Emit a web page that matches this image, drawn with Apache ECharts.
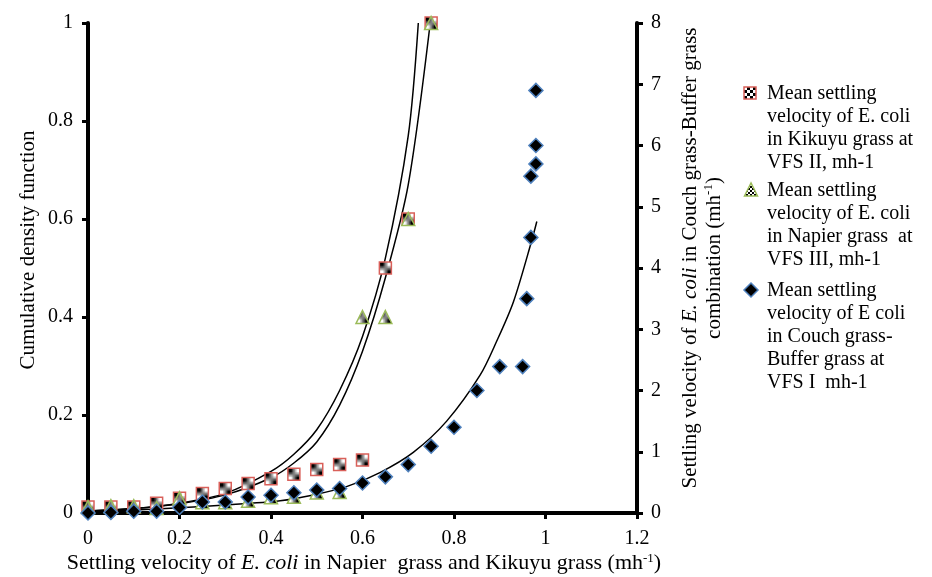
<!DOCTYPE html>
<html>
<head>
<meta charset="utf-8">
<script src="https://cdn.jsdelivr.net/npm/echarts@6/dist/echarts.min.js"></script>
<style>html,body{margin:0;padding:0;background:#fff}#c{width:932px;height:577px}</style>
</head>
<body>
<div id="c"></div>
<script>
// ---- data ----
const xTicks = [0, 0.2, 0.4, 0.6, 0.8, 1, 1.2];
const kikuyuX = [0,0.05,0.1,0.15,0.2,0.25,0.3,0.35,0.4,0.45,0.5,0.55,0.6,0.65,0.7,0.75];
const kikuyuY = [0.012,0.012,0.012,0.02,0.03,0.04,0.05,0.06,0.07,0.079,0.089,0.099,0.108,0.5,0.6,1.0];
const napierX = [0,0.05,0.1,0.15,0.2,0.25,0.3,0.35,0.4,0.45,0.5,0.55,0.6,0.65,0.7,0.75];
const napierY = [0.012,0.014,0.014,0.01,0.03,0.022,0.022,0.025,0.032,0.033,0.042,0.043,0.4,0.4,0.6,1.0];
const couchX = [0,0.05,0.1,0.15,0.2,0.25,0.3,0.35,0.4,0.45,0.5,0.55,0.6,0.65,0.7,0.75,0.8,0.85,0.9,0.95,0.959,0.968,0.968,0.979,0.979,0.979];
const couchY = [0.0,0.01,0.03,0.03,0.09,0.18,0.18,0.26,0.29,0.33,0.375,0.4,0.49,0.59,0.79,1.09,1.4,2.0,2.39,2.39,3.5,4.5,5.5,5.7,6.0,6.9];
// trend curves
const trendAX = [0,0.1,0.2,0.3,0.4,0.45,0.5,0.55,0.6,0.65,0.7,0.722];
const trendAY = [0.004,0.009,0.02,0.04,0.085,0.12,0.17,0.25,0.36,0.52,0.77,1.0];
const trendBX = [0,0.1,0.2,0.3,0.4,0.45,0.5,0.55,0.6,0.65,0.7,0.748];
const trendBY = [0.004,0.009,0.019,0.037,0.072,0.102,0.145,0.22,0.33,0.48,0.67,1.0];
const trendCX = [0,0.1,0.2,0.3,0.42,0.49,0.565,0.638,0.711,0.784,0.857,0.893,0.93,0.97,0.981];
const trendCY = [0.02,0.05,0.085,0.13,0.2,0.29,0.43,0.66,0.99,1.5,2.25,2.8,3.45,4.45,4.76];
const legendNames = [
  'Mean settling\nvelocity of E. coli\nin Kikuyu grass at\nVFS II, mh-1',
  'Mean settling\nvelocity of E. coli\nin Napier grass  at\nVFS III, mh-1',
  'Mean settling\nvelocity of E coli\nin Couch grass-\nBuffer grass at\nVFS I  mh-1'
];

function zip(a, b) { return a.map((v, i) => [v, b[i]]); }
function checker(cell) {
  const c = document.createElement('canvas');
  c.width = c.height = cell * 2;
  const g = c.getContext('2d');
  g.fillStyle = '#fff'; g.fillRect(0, 0, cell * 2, cell * 2);
  g.fillStyle = '#000'; g.fillRect(0, 0, cell, cell); g.fillRect(cell, cell, cell, cell);
  return c;
}
const patBig = { image: checker(3), repeat: 'repeat' };
const patSmall = { image: checker(2), repeat: 'repeat' };
const FONT = '"Liberation Serif", "Times New Roman", serif';
const RED = '#d9605a', GREEN = '#9bbb59', BLUE = '#4f81bd';

const chart = echarts.init(document.getElementById('c'), null, { renderer: 'canvas' });
const axisLineS = { show: true, lineStyle: { color: '#000', width: 4 } };
const tickS = { show: true, inside: false, length: 6, lineStyle: { color: '#000', width: 3 } };
const labS = { fontFamily: FONT, fontSize: 20, color: '#000' };

const lineSeries = (name, xs, ys, yIdx) => ({
  name, type: 'line', yAxisIndex: yIdx, data: zip(xs, ys), showSymbol: false, symbol: 'none',
  smooth: 0.3, lineStyle: { color: '#000', width: 1.5 }, z: 3, silent: true
});

chart.setOption({
  animation: false,
  backgroundColor: '#fff',
  grid: { left: 88, right: 295, top: 23, bottom: 64, containLabel: false },
  xAxis: {
    type: 'value', min: 0, max: 1.2, interval: 0.2,
    axisLine: axisLineS, axisTick: tickS, splitLine: { show: false },
    axisLabel: Object.assign({ margin: 16 }, labS)
  },
  yAxis: [
    { type: 'value', min: 0, max: 1, interval: 0.2, position: 'left',
      axisLine: axisLineS, axisTick: tickS, splitLine: { show: false },
      axisLabel: Object.assign({ margin: 15 }, labS) },
    { type: 'value', min: 0, max: 8, interval: 1, position: 'right',
      axisLine: axisLineS, axisTick: tickS, splitLine: { show: false },
      axisLabel: Object.assign({ margin: 14 }, labS) }
  ],
  series: [
    { name: 'Kikuyu', type: 'scatter', yAxisIndex: 0, data: zip(kikuyuX, kikuyuY),
      symbol: 'rect', symbolSize: 12, z: 4,
      itemStyle: { color: patBig, borderColor: RED, borderWidth: 1.5, opacity: 1 } },
    { name: 'Napier', type: 'scatter', yAxisIndex: 0, data: zip(napierX, napierY),
      symbol: 'triangle', symbolSize: 13, z: 5,
      itemStyle: { color: patSmall, borderColor: GREEN, borderWidth: 1.5, opacity: 1 } },
    { name: 'Couch', type: 'scatter', yAxisIndex: 1, data: zip(couchX, couchY),
      symbol: 'diamond', symbolSize: 14, z: 6,
      itemStyle: { color: '#000', borderColor: BLUE, borderWidth: 1.5, opacity: 1 } },
    lineSeries('trendA', trendAX, trendAY, 0),
    lineSeries('trendB', trendBX, trendBY, 0),
    lineSeries('trendC', trendCX, trendCY, 1)
  ],
  graphic: [
    { type: 'text', position: [364, 563], style: {
        text: 'Settling velocity of {i|E. coli} in Napier  grass and Kikuyu grass (mh{s|-1})',
        font: '22px ' + FONT, fill: '#000', align: 'center', verticalAlign: 'middle',
        rich: { i: { fontStyle: 'italic', fontSize: 22, fontFamily: FONT },
                s: { fontSize: 13, fontFamily: FONT, verticalAlign: 'top', padding: [0, 0, 9, 0] } } } },
    { type: 'text', position: [28, 250], rotation: Math.PI / 2, style: {
        text: 'Cumulative density function', font: '21px ' + FONT, fill: '#000',
        align: 'center', verticalAlign: 'middle' } },
    { type: 'text', position: [702, 258], rotation: Math.PI / 2, style: {
        text: 'Settling velocity of {i|E. coli} in Couch grass-Buffer grass\ncombination (mh{s|-1})',
        font: '21px ' + FONT, fill: '#000', align: 'center', verticalAlign: 'middle', lineHeight: 24,
        rich: { i: { fontStyle: 'italic', fontSize: 21, fontFamily: FONT, lineHeight: 24 },
                s: { fontSize: 13, fontFamily: FONT, verticalAlign: 'top', padding: [0, 0, 9, 0], lineHeight: 24 } } } },
    // legend
    { type: 'rect', shape: { x: 744, y: 87, width: 12, height: 12 },
      style: { fill: patBig, stroke: RED, lineWidth: 1.5 } },
    { type: 'text', position: [767, 82], style: { text: legendNames[0], font: '20px ' + FONT, fill: '#000', lineHeight: 23 } },
    { type: 'polygon', shape: { points: [[751, 183], [744.5, 196], [757.5, 196]] },
      style: { fill: patSmall, stroke: GREEN, lineWidth: 1.5 } },
    { type: 'text', position: [767, 179], style: { text: legendNames[1], font: '20px ' + FONT, fill: '#000', lineHeight: 23 } },
    { type: 'polygon', shape: { points: [[751, 283], [758, 290], [751, 297], [744, 290]] },
      style: { fill: '#000', stroke: BLUE, lineWidth: 1.5 } },
    { type: 'text', position: [767, 279], style: { text: legendNames[2], font: '20px ' + FONT, fill: '#000', lineHeight: 23 } }
  ]
});
</script>
</body>
</html>
